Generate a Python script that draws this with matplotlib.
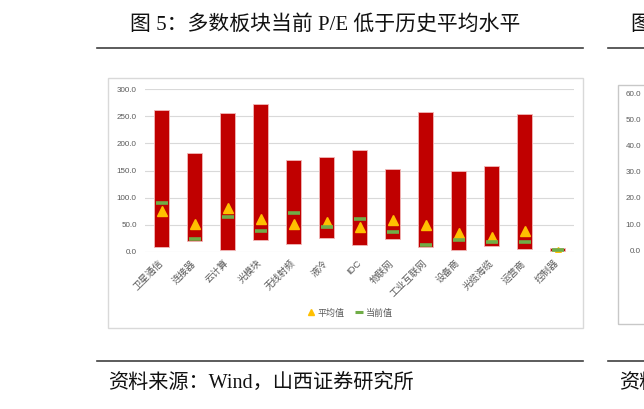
import matplotlib
matplotlib.use("Agg")
import matplotlib.pyplot as plt
from matplotlib.patches import Rectangle
from matplotlib.lines import Line2D

# 数据
categories = ["卫星通信", "连接器", "云计算", "光模块", "无线射频", "液冷", "IDC",
              "物联网", "工业互联网", "设备商", "光缆海缆", "运营商", "控制器"]
pe_max = [260.7, 182.8, 256.4, 272.4, 168.7, 174.8, 187.7, 152.0, 257.7, 148.5, 158.9, 254.6, 7.4]
pe_min = [9.8, 19.6, 4.3, 21.5, 14.0, 25.0, 13.5, 23.3, 8.6, 4.3, 11.0, 5.5, 1.2]
pe_avg = [74.8, 52.0, 81.0, 61.0, 51.0, 56.0, 45.4, 58.3, 49.0, 35.0, 28.2, 38.0, 0.6]
pe_now = [90.2, 24.5, 64.4, 38.7, 71.8, 46.6, 61.3, 36.2, 13.5, 21.5, 18.4, 18.4, 3.0]
y_ticks = [0, 50, 100, 150, 200, 250, 300]
side_ticks = [0, 10, 20, 30, 40, 50, 60]

W, H = 644, 409
CJK = ["Liberation Serif", "Noto Sans CJK SC"]
SANS = ["Liberation Sans", "Noto Sans CJK SC"]
GREY = "#595959"


def fx(px):
    return px / W


def fy(py):
    return 1 - py / H


fig = plt.figure(figsize=(W / 100, H / 100), dpi=100)

# 标题与分隔线
fig.text(fx(130), fy(25), "图 5：多数板块当前 P/E 低于历史平均水平", family=CJK,
         fontsize=15, ha="left", va="center", color="#111111")
fig.text(fx(631), fy(25), "图 6：", family=CJK, fontsize=15, ha="left", va="center",
         color="#111111")
for y in (48, 361):
    fig.add_artist(Line2D([fx(97), fx(583)], [fy(y), fy(y)], color="#404040", lw=1.2))
    fig.add_artist(Line2D([fx(608), fx(644)], [fy(y), fy(y)], color="#404040", lw=1.2))

# 图表外框
fig.add_artist(Rectangle((fx(108), fy(328)), fx(583) - fx(108), fy(78) - fy(328),
                         transform=fig.transFigure, fill=False, ec="#D9D9D9", lw=1))
fig.add_artist(Rectangle((fx(618), fy(324)), fx(660) - fx(618), fy(85) - fy(324),
                         transform=fig.transFigure, fill=False, ec="#C8C8C8", lw=1))

# 主图
ax = fig.add_axes([fx(145), fy(252), fx(574) - fx(145), fy(89) - fy(252)])
x = list(range(len(categories)))
heights = [hi - lo for hi, lo in zip(pe_max, pe_min)]
ax.bar(x, heights, bottom=pe_min, width=0.43, color="#C00000", edgecolor="#F2B8B8",
       linewidth=0.6, zorder=2)
ax.plot(x, pe_avg, ls="none", marker="^", ms=7.5, color="#FFC000", zorder=3)
ax.plot(x, pe_now, ls="none", marker="_", ms=8.5, mew=2.6, color="#70AD47", zorder=4)

ax.set_xlim(-0.5, len(categories) - 0.5)
ax.set_ylim(0, 300)
ax.set_yticks(y_ticks)
ax.set_yticklabels([f"{v:.1f}" for v in y_ticks], family=SANS, fontsize=5.8, color=GREY)
ax.set_xticks(x)
ax.set_xticklabels(categories, family=SANS, fontsize=6.8, color=GREY, rotation=45,
                   ha="right", va="center", rotation_mode="anchor")
ax.tick_params(axis="both", length=0)
ax.tick_params(axis="x", pad=7)
ax.tick_params(axis="y", pad=6)
ax.grid(axis="y", color="#D9D9D9", lw=0.8, zorder=0)
ax.set_axisbelow(True)
for s in ax.spines.values():
    s.set_visible(False)

handles = [Line2D([], [], ls="none", marker="^", ms=5, color="#FFC000"),
           Line2D([], [], ls="none", marker="_", ms=6, mew=2.2, color="#70AD47")]
fig.legend(handles, ["平均值", "当前值"], loc="center", bbox_to_anchor=(fx(350), fy(313)),
           ncol=2, frameon=False, prop={"family": SANS, "size": 6.5}, labelcolor=GREY,
           handlelength=0.9, handletextpad=0.3, columnspacing=1.2)

# 右侧被截断的图
ax2 = fig.add_axes([fx(644), fy(250), 0.1, fy(94) - fy(250)])
ax2.set_ylim(0, 60)
ax2.set_yticks(side_ticks)
ax2.set_yticklabels([f"{v:.1f}" for v in side_ticks], family=SANS, fontsize=5.8, color=GREY)
ax2.set_xticks([])
ax2.tick_params(axis="y", length=0, pad=2)
for s in ax2.spines.values():
    s.set_visible(False)
ax2.patch.set_visible(False)

# 资料来源
fig.text(fx(108), fy(383), "资料来源：Wind，山西证券研究所", family=CJK, fontsize=14.5,
         ha="left", va="center", color="#111111")
fig.text(fx(619), fy(383), "资料来源", family=CJK, fontsize=14.5, ha="left",
         va="center", color="#111111")

fig.savefig("out.png", dpi=100)
